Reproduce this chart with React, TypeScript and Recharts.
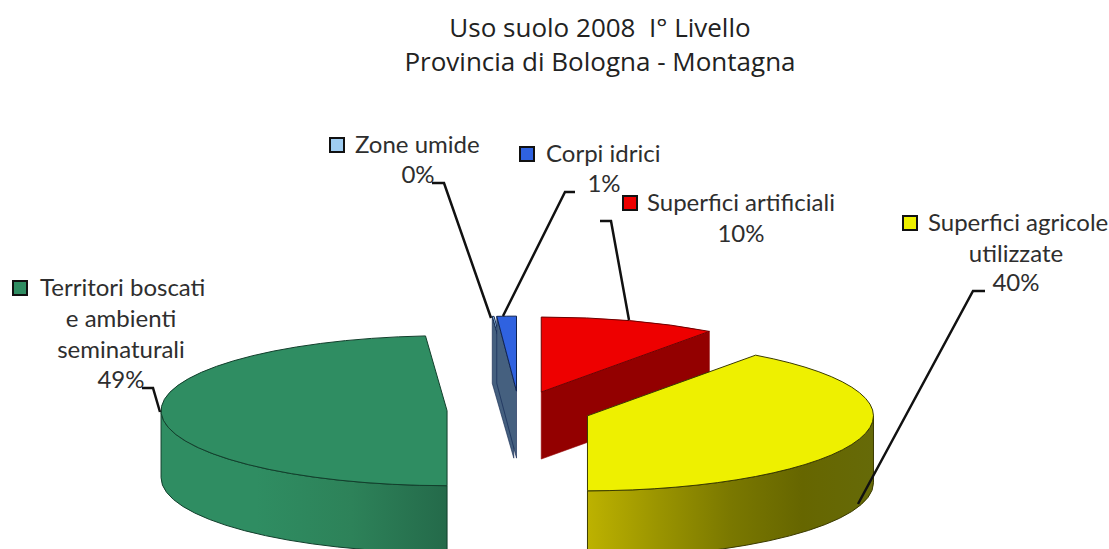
import { Pie, PieChart } from "recharts";

const categories = ["Superfici artificiali", "Superfici agricole utilizzate", "Territori boscati e ambienti seminaturali", "Zone umide", "Corpi idrici"];
const shares = [10, 40, 48.8, 0.1, 1.1];

const topColors = ["#ee0000", "#eef000", "#2f8d62", "#9fcdf2", "#2f62e0"];
const edgeColors = ["#6e0000", "#3a3a00", "#123f2c", "#12274f", "#0e2250"];
const sideColors = ["#930000", "#6f6f00", "#2a7d57", "#45607f", "#45607f"];
const wallStops: string[][] = [
  ["#930000", "#930000"],
  ["#bdb200", "#9a9400", "#7a7800", "#666600", "#666a08"],
  ["#2f8d62", "#2f8d62", "#2d8259", "#246a4a"],
  ["#45607f", "#45607f"],
  ["#45607f", "#45607f"],
];

const tableData = categories.map((name, i) => ({ name, value: shares[i], fill: topColors[i] }));

// hand placed like the original's dragged data labels
const labelLayout: Record<string, { box: [number, number]; first: [number, string]; lines: [string, number, number][]; pctAt: [number, number]; leader: string }> = {
  "Superfici artificiali": { box: [622, 195], first: [647, "Superfici artificiali"], lines: [], pctAt: [741, 242], leader: "600,221 611,221 629,320" },
  "Superfici agricole utilizzate": { box: [902, 215], first: [928, "Superfici agricole"], lines: [["utilizzate", 1016, 262]], pctAt: [1016, 291], leader: "985,291 973,291 858,504" },
  "Territori boscati e ambienti seminaturali": { box: [12, 280], first: [40, "Territori boscati"], lines: [["e ambienti", 121, 327], ["seminaturali", 121, 358]], pctAt: [121, 388], leader: "142,388 153,388 160,412" },
  "Zone umide": { box: [329, 137], first: [355, "Zone umide"], lines: [], pctAt: [418, 183], leader: "432,183 444,183 491,318" },
  "Corpi idrici": { box: [519, 146], first: [546, "Corpi idrici"], lines: [], pctAt: [604, 192], leader: "575,192 565,192 503,316" },
};

const SQUASH = 0.2622;
const EXPLODE = 72;
const DEPTH = 67;
const labelFont = "Lato, sans-serif";
const titleStyle = { fontFamily: "'Open Sans', sans-serif", fontSize: 26, whiteSpace: "pre" as const };

function Slice3D(props: any) {
  const { cx, cy, outerRadius, startAngle, endAngle, name } = props;
  const i = categories.indexOf(name);
  const from = 90 - startAngle;
  const to = 90 - endAngle;
  const rad = (d: number) => (d * Math.PI) / 180;
  const mid = rad((from + to) / 2);
  const ox = cx + EXPLODE * Math.sin(mid);
  const oy = cy - EXPLODE * SQUASH * Math.cos(mid);
  const ry = outerRadius * SQUASH;
  const px = (d: number) => ox + outerRadius * Math.sin(rad(d));
  const py = (d: number) => oy - ry * Math.cos(rad(d));
  const arc = (a: number, b: number, sweep: number, dy: number) =>
    `A ${outerRadius} ${ry} 0 ${Math.abs(b - a) > 180 ? 1 : 0} ${sweep} ${px(b)} ${py(b) + dy}`;

  const top = `M ${ox} ${oy} L ${px(from)} ${py(from)} ${arc(from, to, 1, 0)} Z`;
  const radial = (d: number) =>
    `M ${ox} ${oy} L ${px(d)} ${py(d)} L ${px(d)} ${py(d) + DEPTH} L ${ox} ${oy + DEPTH} Z`;

  const lo = Math.max(from, 90);
  const hi = Math.min(to, 270);
  const wall =
    lo < hi
      ? `M ${px(lo)} ${py(lo)} ${arc(lo, hi, 1, 0)} L ${px(hi)} ${py(hi) + DEPTH} ${arc(hi, lo, 0, DEPTH)} Z`
      : null;
  const gradId = `wall-${i}`;
  const stops = wallStops[i];

  return (
    <g>
      <defs>
        <linearGradient id={gradId} x1="0" y1="0" x2="1" y2="0">
          {stops.map((c, k) => (
            <stop key={k} offset={k / (stops.length - 1)} stopColor={c} />
          ))}
        </linearGradient>
      </defs>
      {Math.sin(rad(from)) < -0.001 && <path d={radial(from)} fill={sideColors[i]} stroke={edgeColors[i]} strokeWidth={0.6} />}
      {Math.sin(rad(to)) > 0.001 && <path d={radial(to)} fill={sideColors[i]} stroke={sideColors[i]} strokeWidth={0.6} />}
      {wall && <path d={wall} fill={`url(#${gradId})`} stroke={edgeColors[i]} strokeWidth={1} />}
      <path d={top} fill={topColors[i]} stroke={edgeColors[i]} strokeWidth={1} strokeLinejoin="round" />
    </g>
  );
}

function SliceLabel(props: any) {
  const { name, percent } = props;
  const l = labelLayout[name];
  const i = categories.indexOf(name);
  return (
    <g fontFamily={labelFont} fontSize={24} fill="#2e2e2e">
      <rect x={l.box[0] + 1} y={l.box[1] + 1} width={14} height={14} fill={topColors[i]} stroke="#111" strokeWidth={2} />
      <text x={l.first[0]} y={l.box[1] + 16}>{l.first[1]}</text>
      {l.lines.map(([t, x, y]) => (
        <text key={t} x={x} y={y} textAnchor="middle">{t}</text>
      ))}
      <text x={l.pctAt[0]} y={l.pctAt[1]} textAnchor="middle">{`${Math.round(percent * 100)}%`}</text>
    </g>
  );
}

function LeaderLine(props: any) {
  return <polyline points={labelLayout[props.name].leader} fill="none" stroke="#111" strokeWidth={2.5} />;
}

export default function App() {
  return (
    <div style={{ position: "absolute", left: 0, top: 0, width: 1109, height: 549, overflow: "hidden", background: "#fff" }}>
      <PieChart width={1109} height={549} margin={{ top: 0, right: 0, bottom: 0, left: 0 }}>
        <text x={600} y={37} textAnchor="middle" style={titleStyle} fill="#222">
          {"Uso suolo 2008  I° Livello"}
        </text>
        <text x={600} y={71} textAnchor="middle" style={titleStyle} fill="#222">
          Provincia di Bologna - Montagna
        </text>
        <Pie
          data={tableData}
          dataKey="value"
          nameKey="name"
          cx={519}
          cy={410}
          innerRadius={0}
          outerRadius={286}
          startAngle={90}
          endAngle={-270}
          paddingAngle={0}
          shape={Slice3D}
          label={SliceLabel}
          labelLine={LeaderLine}
          isAnimationActive={false}
        />
      </PieChart>
    </div>
  );
}
